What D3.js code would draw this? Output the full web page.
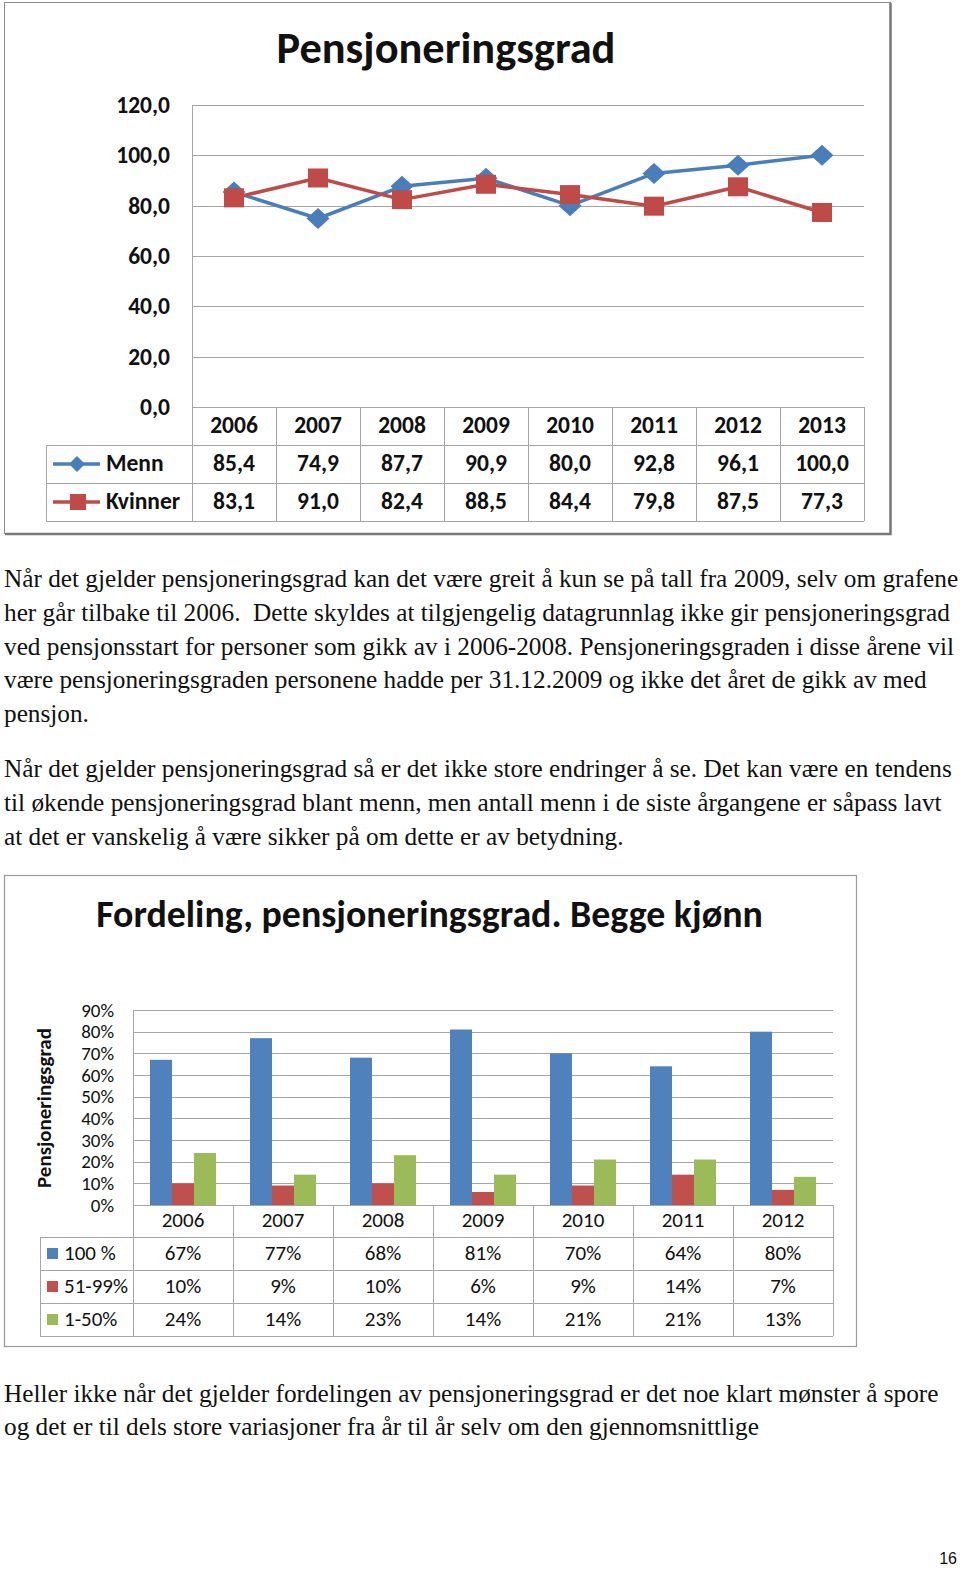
<!DOCTYPE html>
<html>
<head>
<meta charset="utf-8">
<script src="https://cdn.jsdelivr.net/npm/d3@7"></script>
<style>
  html, body { margin: 0; padding: 0; background: #fff; }
  svg { display: block; }
</style>
</head>
<body>
<svg id="page" width="960" height="1569"></svg>
<script>
// ---------------- DATA ----------------
const lineYears = ["2006", "2007", "2008", "2009", "2010", "2011", "2012", "2013"];
const menn     = [85.4, 74.9, 87.7, 90.9, 80.0, 92.8, 96.1, 100.0];
const kvinner  = [83.1, 91.0, 82.4, 88.5, 84.4, 79.8, 87.5, 77.3];
const lineTicks = [0, 20, 40, 60, 80, 100, 120];
const lineSeriesNames = ["Menn", "Kvinner"];

const barYears = ["2006", "2007", "2008", "2009", "2010", "2011", "2012"];
const full100  = [67, 77, 68, 81, 70, 64, 80];
const part5199 = [10, 9, 10, 6, 9, 14, 7];
const part150  = [24, 14, 23, 14, 21, 21, 13];
const barSeriesNames = ["100 %", "51-99%", "1-50%"];
const barTicks = [0, 10, 20, 30, 40, 50, 60, 70, 80, 90];

const para1 = [
  "Når det gjelder pensjoneringsgrad kan det være greit å kun se på tall fra 2009, selv om grafene",
  "her går tilbake til 2006.  Dette skyldes at tilgjengelig datagrunnlag ikke gir pensjoneringsgrad",
  "ved pensjonsstart for personer som gikk av i 2006-2008. Pensjoneringsgraden i disse årene vil",
  "være pensjoneringsgraden personene hadde per 31.12.2009 og ikke det året de gikk av med",
  "pensjon."
];
const para2 = [
  "Når det gjelder pensjoneringsgrad så er det ikke store endringer å se. Det kan være en tendens",
  "til økende pensjoneringsgrad blant menn, men antall menn i de siste årgangene er såpass lavt",
  "at det er vanskelig å være sikker på om dette er av betydning."
];
const para3 = [
  "Heller ikke når det gjelder fordelingen av pensjoneringsgrad er det noe klart mønster å spore",
  "og det er til dels store variasjoner fra år til år selv om den gjennomsnittlige"
];

// ---------------- STYLE ----------------
const sans = "Carlito, Lato, 'Open Sans', sans-serif";
const serif = "'Liberation Serif', 'DejaVu Serif', serif";
const blue = "#4a7ebb", red = "#be4b48";
const barColors = ["#4f81bd", "#c0504d", "#9bbb59"];
const gridCol = "#a6a6a6", tableCol = "#a6a6a6";
const fs1 = 23.5, fs2 = 21, fsTick2 = 19;

const svg = d3.select("#page");
svg.append("rect").attr("width", 960).attr("height", 1569).attr("fill", "#fff");

function fitWidth(sel, target) {
  const node = sel.node();
  const fs = parseFloat(sel.attr("font-size"));
  const w = node.getComputedTextLength();
  sel.attr("font-size", fs * target / w);
}

// ================= CHART 1 =================
const c1 = svg.append("g");
c1.append("rect").attr("x", 4.5).attr("y", 2.5).attr("width", 886).attr("height", 531)
  .attr("fill", "#fff").attr("stroke", "#8a8a8a").attr("stroke-width", 1);
c1.append("path").attr("d", "M890.5,3 V534 H5").attr("fill", "none").attr("stroke", "#777").attr("stroke-width", 2.5);

const t1 = c1.append("text").attr("x", 446).attr("y", 63).attr("text-anchor", "middle")
  .attr("font-family", sans).attr("font-weight", "bold").attr("font-size", 38)
  .attr("fill", "#111").text("Pensjoneringsgrad");
fitWidth(t1, 339);

const px1 = [192, 864];
const xCat1 = d3.scaleBand().domain(lineYears).range(px1);
const xPt1 = d3.scalePoint().domain(lineYears).range(px1).padding(0.5);
const y1 = d3.scaleLinear().domain([0, 120]).range([407, 105]);

c1.append("g").selectAll("line").data(lineTicks.filter(d => d > 0)).join("line")
  .attr("x1", px1[0]).attr("x2", px1[1])
  .attr("y1", d => Math.round(y1(d)) + 0.5).attr("y2", d => Math.round(y1(d)) + 0.5)
  .attr("stroke", gridCol).attr("stroke-width", 1);

const yAx1 = d3.axisLeft(y1).tickValues(lineTicks).tickSize(0).tickPadding(22)
  .tickFormat(d => d3.format(".1f")(d).replace(".", ","));
const ya1 = c1.append("g").attr("transform", `translate(${px1[0]},0)`).call(yAx1);
ya1.select(".domain").remove();
ya1.selectAll("text").attr("font-family", sans).attr("font-size", fs1).attr("font-weight", 600).attr("fill", "#111");

c1.append("line").attr("x1", 192.5).attr("x2", 192.5).attr("y1", 105).attr("y2", 522)
  .attr("stroke", tableCol);

const rowsY1 = [407, 445, 483, 521];
const tbl1 = c1.append("g");
tbl1.append("line").attr("x1", 192).attr("x2", 864).attr("y1", rowsY1[0] + 0.5).attr("y2", rowsY1[0] + 0.5).attr("stroke", tableCol);
[rowsY1[1], rowsY1[2], rowsY1[3]].forEach(y => {
  tbl1.append("line").attr("x1", 46).attr("x2", 864).attr("y1", y + 0.5).attr("y2", y + 0.5).attr("stroke", tableCol);
});
tbl1.append("line").attr("x1", 46.5).attr("x2", 46.5).attr("y1", rowsY1[1]).attr("y2", rowsY1[3]).attr("stroke", tableCol);
lineYears.forEach(d => {
  const xr = Math.round(xCat1(d) + xCat1.bandwidth()) + 0.5;
  tbl1.append("line").attr("x1", xr).attr("x2", xr).attr("y1", rowsY1[0]).attr("y2", rowsY1[3]).attr("stroke", tableCol);
});
tbl1.selectAll("text.yr").data(lineYears).join("text").attr("class", "yr")
  .attr("x", d => xPt1(d)).attr("y", (rowsY1[0] + rowsY1[1]) / 2 + 1)
  .attr("text-anchor", "middle").attr("dominant-baseline", "middle")
  .attr("font-family", sans).attr("font-size", fs1).attr("font-weight", 600).attr("fill", "#111").text(d => d);
const lineData = [menn, kvinner];
lineData.forEach((vals, i) => {
  const yc = (rowsY1[i + 1] + rowsY1[i + 2]) / 2 + 1;
  tbl1.selectAll("text.v" + i).data(vals).join("text").attr("class", "v" + i)
    .attr("x", (d, j) => xPt1(lineYears[j])).attr("y", yc)
    .attr("text-anchor", "middle").attr("dominant-baseline", "middle")
    .attr("font-family", sans).attr("font-size", fs1).attr("font-weight", 600).attr("fill", "#111")
    .text(d => d3.format(".1f")(d).replace(".", ","));
  const col = i === 0 ? blue : red;
  const ly = (rowsY1[i + 1] + rowsY1[i + 2]) / 2;
  tbl1.append("line").attr("x1", 53).attr("x2", 100).attr("y1", ly).attr("y2", ly)
    .attr("stroke", col).attr("stroke-width", 3.5);
  if (i === 0) {
    tbl1.append("path").attr("d", "M0,-8 L8,0 L0,8 L-8,0 Z").attr("fill", col)
      .attr("transform", `translate(77,${ly})`);
  } else {
    tbl1.append("rect").attr("x", 70).attr("y", ly - 8).attr("width", 16).attr("height", 16).attr("fill", col);
  }
  tbl1.append("text").attr("x", 106).attr("y", yc).attr("dominant-baseline", "middle")
    .attr("font-family", sans).attr("font-size", fs1).attr("font-weight", 600).attr("fill", "#111")
    .text(lineSeriesNames[i]);
});

const lineGen = d3.line().x((d, j) => xPt1(lineYears[j])).y(d => y1(d));
c1.append("path").datum(menn).attr("d", lineGen).attr("fill", "none")
  .attr("stroke", blue).attr("stroke-width", 3.5).attr("stroke-linejoin", "round");
c1.append("path").datum(kvinner).attr("d", lineGen).attr("fill", "none")
  .attr("stroke", red).attr("stroke-width", 3.5).attr("stroke-linejoin", "round");
c1.selectAll("path.dia").data(menn).join("path").attr("class", "dia")
  .attr("d", "M0,-10.5 L11.5,0 L0,10.5 L-11.5,0 Z").attr("fill", blue)
  .attr("transform", (d, j) => `translate(${xPt1(lineYears[j])},${y1(d)})`);
c1.selectAll("rect.sq").data(kvinner).join("rect").attr("class", "sq")
  .attr("x", (d, j) => xPt1(lineYears[j]) - 10).attr("y", d => y1(d) - 9.5)
  .attr("width", 20).attr("height", 19).attr("fill", red);

// ================= TEXT =================
function para(lines, y0, step) {
  const g = svg.append("g");
  lines.forEach((l, i) => {
    g.append("text").attr("x", 4).attr("y", y0 + i * step)
      .attr("font-family", serif).attr("font-size", 22).attr("fill", "#111")
      .attr("xml:space", "preserve").style("white-space", "pre").text(l);
  });
  return g;
}
const p1 = para(para1, 587.3, 33.7);
const ref = p1.select("text");
const w0 = ref.node().getComputedTextLength();
const fsText = 22 * 955 / w0;
p1.selectAll("text").attr("font-size", fsText);
para(para2, 777, 33.9).selectAll("text").attr("font-size", fsText);
para(para3, 1401.5, 33).selectAll("text").attr("font-size", fsText);

// ================= CHART 2 =================
const c2 = svg.append("g");
c2.append("rect").attr("x", 4.5).attr("y", 875.5).attr("width", 852).attr("height", 471)
  .attr("fill", "#fff").attr("stroke", "#9a9a9a").attr("stroke-width", 1.2);

const t2 = c2.append("text").attr("x", 429.5).attr("y", 927).attr("text-anchor", "middle")
  .attr("font-family", sans).attr("font-weight", "bold").attr("font-size", 36)
  .attr("fill", "#111").text("Fordeling, pensjoneringsgrad. Begge kjønn");
fitWidth(t2, 667);

const px2 = [133, 833];
const x0 = d3.scaleBand().domain(barYears).range(px2).paddingInner(0.34).paddingOuter(0.17);
const xCat2 = d3.scaleBand().domain(barYears).range(px2);
const x1 = d3.scaleBand().domain(barSeriesNames).range([0, x0.bandwidth()]);
const y2 = d3.scaleLinear().domain([0, 90]).range([1205, 1010]);

c2.append("g").selectAll("line").data(barTicks.filter(d => d > 0)).join("line")
  .attr("x1", px2[0]).attr("x2", px2[1])
  .attr("y1", d => Math.round(y2(d)) + 0.5).attr("y2", d => Math.round(y2(d)) + 0.5)
  .attr("stroke", gridCol).attr("stroke-width", 1);

const yAx2 = d3.axisLeft(y2).tickValues(barTicks).tickSize(0).tickPadding(19)
  .tickFormat(d => d + "%");
const ya2 = c2.append("g").attr("transform", `translate(${px2[0]},0)`).call(yAx2);
ya2.select(".domain").remove();
ya2.selectAll("text").attr("font-family", sans).attr("font-size", fsTick2).attr("fill", "#111");

const yt2 = c2.append("text").attr("transform", "translate(51,1108) rotate(-90)").attr("text-anchor", "middle")
  .attr("font-family", sans).attr("font-weight", "bold").attr("font-size", 21).attr("fill", "#111")
  .text("Pensjoneringsgrad");
fitWidth(yt2, 160);

c2.append("line").attr("x1", 133.5).attr("x2", 133.5).attr("y1", 1010).attr("y2", 1336).attr("stroke", tableCol);

const barData = [full100, part5199, part150];
barData.forEach((vals, s) => {
  c2.append("g").selectAll("rect").data(vals).join("rect")
    .attr("x", (d, j) => x0(barYears[j]) + x1(barSeriesNames[s]))
    .attr("y", d => y2(d)).attr("width", x1.bandwidth())
    .attr("height", d => y2(0) - y2(d)).attr("fill", barColors[s]);
});

const rowsY2 = [1205, 1237, 1270, 1303, 1336];
const tbl2 = c2.append("g");
tbl2.append("line").attr("x1", 133).attr("x2", 833).attr("y1", rowsY2[0] + 0.5).attr("y2", rowsY2[0] + 0.5).attr("stroke", tableCol);
rowsY2.slice(1).forEach(y => {
  tbl2.append("line").attr("x1", 40).attr("x2", 833).attr("y1", y + 0.5).attr("y2", y + 0.5).attr("stroke", tableCol);
});
tbl2.append("line").attr("x1", 40.5).attr("x2", 40.5).attr("y1", rowsY2[1]).attr("y2", rowsY2[4]).attr("stroke", tableCol);
barYears.forEach(d => {
  const xr = Math.round(xCat2(d) + xCat2.bandwidth()) + 0.5;
  tbl2.append("line").attr("x1", xr).attr("x2", xr).attr("y1", rowsY2[0]).attr("y2", rowsY2[4]).attr("stroke", tableCol);
});
tbl2.selectAll("text.yr").data(barYears).join("text").attr("class", "yr")
  .attr("x", d => xCat2(d) + xCat2.bandwidth() / 2).attr("y", (rowsY2[0] + rowsY2[1]) / 2 + 1)
  .attr("text-anchor", "middle").attr("dominant-baseline", "middle")
  .attr("font-family", sans).attr("font-size", fs2).attr("fill", "#111").text(d => d);
barData.forEach((vals, s) => {
  const yc = (rowsY2[s + 1] + rowsY2[s + 2]) / 2 + 1;
  tbl2.selectAll("text.v" + s).data(vals).join("text").attr("class", "v" + s)
    .attr("x", (d, j) => xCat2(barYears[j]) + xCat2.bandwidth() / 2).attr("y", yc)
    .attr("text-anchor", "middle").attr("dominant-baseline", "middle")
    .attr("font-family", sans).attr("font-size", fs2).attr("fill", "#111").text(d => d + "%");
  tbl2.append("rect").attr("x", 47).attr("y", yc - 6.5).attr("width", 11).attr("height", 11).attr("fill", barColors[s]);
  tbl2.append("text").attr("x", 64).attr("y", yc).attr("dominant-baseline", "middle")
    .attr("font-family", sans).attr("font-size", fs2).attr("fill", "#111").text(barSeriesNames[s]);
});

svg.append("text").attr("x", 957).attr("y", 1564).attr("text-anchor", "end")
  .attr("font-family", "'Liberation Sans', Arial, sans-serif").attr("font-size", 16).attr("fill", "#111").text("16");
</script>
</body>
</html>
